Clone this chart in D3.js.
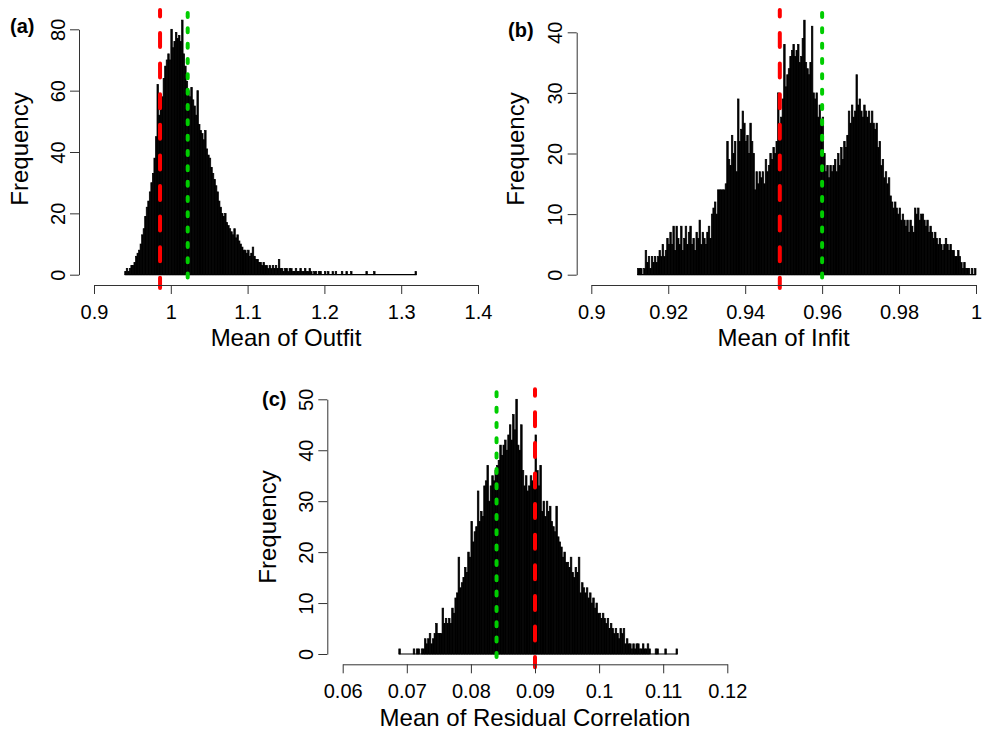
<!DOCTYPE html>
<html>
<head>
<meta charset="utf-8">
<script src="https://cdn.jsdelivr.net/npm/d3@7"></script>
<style>
  html, body { margin: 0; padding: 0; background: #ffffff; }
  svg { display: block; }
</style>
</head>
<body>
<div id="chart"></div>
<script>
// ---------------- DATA ----------------
// (a) Mean of Outfit: histogram counts, bins of width 0.002 starting at 0.94
const outfitStart = 0.94;
const outfitBinWidth = 0.002;
const outfitCounts = [
  1,2,1,2,3, 3,4,6,7,8, 10,13,15,19,22, 24,27,30,33,38,
  45,62,52,56,58, 64,68,70,72,70, 80,74,76,79,77, 78,76,83,72,68,
  63,60,58,61,57, 55,52,60,49,47, 46,44,47,41,39, 38,35,33,31,29,
  27,24,22,20,19, 20,17,16,15,14, 13,15,12,13,11, 10,9,8,8,7,
  8,6,7,9,6, 5,5,4,4,3, 4,3,3,2,3, 2,3,2,3,2,
  5,2,2,1,2, 2,1,2,2,1, 1,2,1,1,2, 1,1,2,1,1,
  2,1,0,1,1, 0,1,1,0,0, 1,0,1,0,0, 1,0,1,0,0,
  0,1,0,0,1, 0,0,1,0,0, 0,0,0,0,0, 0,0,1,0,0,
  0,0,1,0,0, 0,0,0,0,0, 0,0,0,0,0, 0,0,0,0,0,
  0,0,0,0,0, 0,0,0,0,1
];
const outfitRed = 0.986;
const outfitGreen = 1.022;
const outfitXTicks = [0.9, 1.0, 1.1, 1.2, 1.3, 1.4];
const outfitXLabels = ["0.9", "1", "1.1", "1.2", "1.3", "1.4"];
const outfitYTicks = [0, 20, 40, 60, 80];

// (b) Mean of Infit: bins of width 0.0004 starting at 0.912
const infitStart = 0.912;
const infitBinWidth = 0.0004;
const infitCounts = [
  1,1,1,0,1, 4,2,3,1,3, 2,3,2,3,4, 3,5,3,4,6,
  5,7,5,8,4, 8,6,5,8,4, 6,8,5,7,8, 5,6,4,7,6,
  9,5,7,6,5, 7,8,6,10,11, 12,10,14,14,14, 14,14,15,22,19,
  18,23,20,22,17, 29,22,24,27,25, 22,23,20,25,22, 20,14,17,15,17,
  16,17,15,19,17, 18,20,19,21,20, 22,30,24,26,29, 38,31,33,34,36,
  37,38,36,37,38, 35,36,39,42,35, 34,33,35,41,30, 29,30,26,28,25,
  26,20,17,18,16, 18,17,18,19,17, 20,18,21,19,22, 21,23,27,25,28,
  26,27,33,28,29, 27,26,28,27,26, 27,25,27,25,24, 25,21,22,18,19,
  16,17,15,16,13, 12,11,12,11,10, 11,9,10,9,8, 9,7,9,8,7,
  11,10,11,9,10, 10,9,8,9,7, 8,7,6,7,6, 5,6,5,4,5,
  6,5,4,5,4, 4,3,3,4,3, 2,1,2,1,1, 1,0,1,0,1
];
const infitRed = 0.949;
const infitGreen = 0.96;
const infitXTicks = [0.9, 0.92, 0.94, 0.96, 0.98, 1.0];
const infitXLabels = ["0.9", "0.92", "0.94", "0.96", "0.98", "1"];
const infitYTicks = [0, 10, 20, 30, 40];

// (c) Mean of Residual Correlation: bins of width 0.00025 starting at 0.06875
const resStart = 0.06875;
const resBinWidth = 0.00025;
const resCounts = [
  1,
  0,0,0,0, 0,0,0,0, 1,0,1,1, 0,1,1,3, 2,3,4,2,
  3,4,6,4, 4,4,9,6, 7,6,7,6, 9,8,11,12, 19,13,14,15,
  17,16,20,19, 26,22,24,25, 32,26,28,27, 33,34,37,30, 33,35,34,36,
  37,38,41,39, 41,42,40,43, 45,42,47,44, 50,41,40,45, 36,33,35,32,
  33,35,34,33, 43,36,33,37, 28,30,27,30, 28,29,26,25, 24,29,23,22,
  21,19,20,18, 18,17,19,16, 15,17,16,19, 12,14,13,12, 13,11,12,10,
  11,9,10,8, 8,7,8,7, 6,7,5,6, 5,4,5,4, 3,5,4,5,
  2,3,2,2, 1,2,1,2, 2,1,1,2, 1,1,2,1, 0,0,0,1,
  1,0,0,0, 0,1,0,0, 0,0,0,0,
  1
];
const resRed = 0.09;
const resGreen = 0.084;
const resXTicks = [0.06, 0.07, 0.08, 0.09, 0.10, 0.11, 0.12];
const resXLabels = ["0.06", "0.07", "0.08", "0.09", "0.1", "0.11", "0.12"];
const resYTicks = [0, 10, 20, 30, 40, 50];

// ---------------- DRAWING ----------------
const W = 983, H = 730;
const FONT = "'Liberation Sans', Arial, Helvetica, sans-serif";
const RED = "#FF0000", GREEN = "#00CD00";

const svg = d3.select("#chart").append("svg")
  .attr("width", W).attr("height", H)
  .attr("viewBox", `0 0 ${W} ${H}`);
svg.append("rect").attr("width", W).attr("height", H).attr("fill", "#fff");

const panels = [
  {
    tag: "(a)", tagX: 10, tagY: 33,
    start: outfitStart, width: outfitBinWidth, counts: outfitCounts,
    red: outfitRed, green: outfitGreen,
    xTicks: outfitXTicks, xLabels: outfitXLabels, yTicks: outfitYTicks,
    xDomain: [0.9, 1.4], xRange: [94, 478],
    yDomain: [0, 80], yRange: [274.7, 29.3],
    yAxisX: 79, xAxisY: 285, plotTop: 10, plotBottom: 288,
    xTickBase: 318.5, xTitleY: 346, xTitle: "Mean of Outfit",
    yTitleX: 28, yTitleY: 149
  },
  {
    tag: "(b)", tagX: 508, tagY: 37,
    start: infitStart, width: infitBinWidth, counts: infitCounts,
    red: infitRed, green: infitGreen,
    xTicks: infitXTicks, xLabels: infitXLabels, yTicks: infitYTicks,
    xDomain: [0.9, 1.0], xRange: [591.3, 976],
    yDomain: [0, 40], yRange: [274.7, 32.3],
    yAxisX: 576.7, xAxisY: 285, plotTop: 10, plotBottom: 288,
    xTickBase: 318.5, xTitleY: 346, xTitle: "Mean of Infit",
    yTitleX: 524, yTitleY: 149
  },
  {
    tag: "(c)", tagX: 262, tagY: 406,
    start: resStart, width: resBinWidth, counts: resCounts,
    red: resRed, green: resGreen,
    xTicks: resXTicks, xLabels: resXLabels, yTicks: resYTicks,
    xDomain: [0.06, 0.12], xRange: [342.7, 727.3],
    yDomain: [0, 50], yRange: [654, 399.3],
    yAxisX: 327.3, xAxisY: 664.3, plotTop: 389.3, plotBottom: 667.3,
    xTickBase: 698.5, xTitleY: 726, xTitle: "Mean of Residual Correlation",
    yTitleX: 276, yTitleY: 527
  }
];

panels.forEach(p => {
  const x = d3.scaleLinear().domain(p.xDomain).range(p.xRange);
  const y = d3.scaleLinear().domain(p.yDomain).range(p.yRange);
  const g = svg.append("g");

  const bins = p.counts.map((n, i) => ({
    x0: p.start + i * p.width,
    x1: p.start + (i + 1) * p.width,
    n: n
  }));

  // baseline (zero-height bins drawn as a line, as R does)
  g.append("line")
    .attr("x1", x(bins[0].x0)).attr("x2", x(bins[bins.length - 1].x1))
    .attr("y1", y(0)).attr("y2", y(0))
    .attr("stroke", "#000").attr("stroke-width", 1.2);

  g.append("g").selectAll("rect")
    .data(bins.filter(d => d.n > 0))
    .join("rect")
    .attr("x", d => x(d.x0))
    .attr("width", d => x(d.x1) - x(d.x0))
    .attr("y", d => y(d.n))
    .attr("height", d => y(0) - y(d.n))
    .attr("fill", "#000")
    .attr("stroke", "#000")
    .attr("stroke-width", 0.7);

  // x axis
  const xAxis = d3.axisBottom(x)
    .tickValues(p.xTicks)
    .tickFormat((d, i) => p.xLabels[i])
    .tickSize(9).tickSizeOuter(0);
  const gx = svg.append("g")
    .attr("transform", `translate(0,${p.xAxisY})`)
    .call(xAxis);
  gx.selectAll("path, line").attr("stroke", "#333").attr("stroke-width", 1);
  gx.selectAll("text")
    .attr("y", p.xTickBase - p.xAxisY).attr("dy", null)
    .attr("fill", "#000")
    .style("font-family", FONT).style("font-size", "20px");

  // y axis
  const yAxis = d3.axisLeft(y)
    .tickValues(p.yTicks)
    .tickSize(9).tickSizeOuter(0);
  const gy = svg.append("g")
    .attr("transform", `translate(${p.yAxisX},0)`)
    .call(yAxis);
  gy.selectAll("path, line").attr("stroke", "#333").attr("stroke-width", 1);
  gy.selectAll("text")
    .attr("transform", "rotate(-90)")
    .attr("x", 0).attr("y", -14.5).attr("dy", null)
    .attr("text-anchor", "middle")
    .attr("fill", "#000")
    .style("font-family", FONT).style("font-size", "20px");

  // reference lines
  const lineLen = p.plotBottom - p.plotTop;
  g.append("line")
    .attr("x1", x(p.red)).attr("x2", x(p.red))
    .attr("y1", p.plotTop).attr("y2", p.plotBottom)
    .attr("stroke", RED).attr("stroke-width", 4)
    .attr("stroke-dasharray", "14,16.6").attr("stroke-dashoffset", 7.6)
    .attr("stroke-linecap", "round");
  g.append("line")
    .attr("x1", x(p.green)).attr("x2", x(p.green))
    .attr("y1", p.plotTop).attr("y2", p.plotBottom)
    .attr("stroke", GREEN).attr("stroke-width", 4)
    .attr("stroke-dasharray", "4,11.33").attr("stroke-dashoffset", 12.33)
    .attr("stroke-linecap", "round");

  // titles
  svg.append("text")
    .attr("x", (p.xRange[0] + p.xRange[1]) / 2).attr("y", p.xTitleY)
    .attr("text-anchor", "middle")
    .style("font-family", FONT).style("font-size", "24px")
    .text(p.xTitle);
  svg.append("text")
    .attr("transform", `translate(${p.yTitleX},${p.yTitleY}) rotate(-90)`)
    .attr("text-anchor", "middle")
    .style("font-family", FONT).style("font-size", "24px")
    .text("Frequency");
  svg.append("text")
    .attr("x", p.tagX).attr("y", p.tagY)
    .style("font-family", FONT).style("font-size", "20px").style("font-weight", "bold")
    .text(p.tag);
});
</script>
</body>
</html>
